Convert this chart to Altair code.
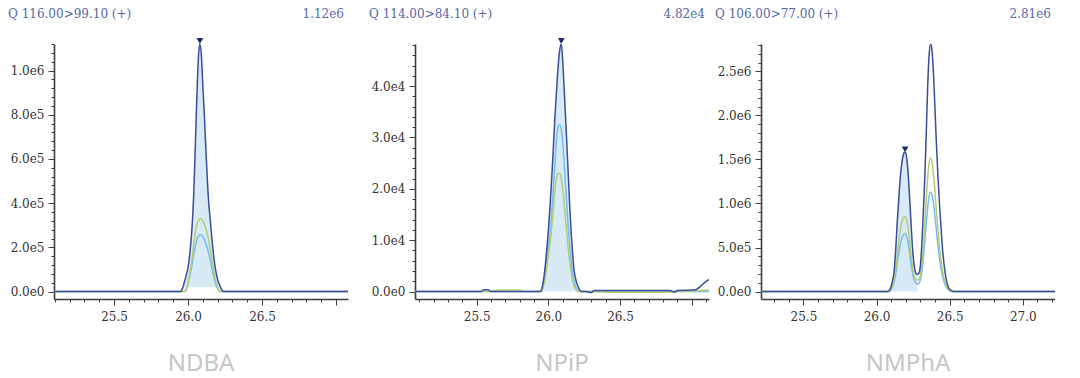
import altair as alt
import pandas as pd
import numpy as np

# ---------------- data ----------------
NAMES = ["NDBA", "NPiP", "NMPhA"]
HEAD_L = ["Q 116.00>99.10 (+)", "Q 114.00>84.10 (+)", "Q 106.00>77.00 (+)"]
HEAD_R = ["1.12e6", "4.82e4", "2.81e6"]
YMAX = [1.12e6, 4.82e4, 2.81e6]
YSTEP = [2e5, 1e4, 5e5]
YMINOR = [4e4, 2e3, 1e5]
XDOM = [[25.094, 27.081], [25.07, 27.12], [25.21, 27.22]]
XLABELS = [[25.5, 26.0, 26.5], [25.5, 26.0, 26.5], [25.5, 26.0, 26.5, 27.0]]
PEAK_T = [26.08, 26.09, 26.195]
PEAK_V = [1.12e6, 4.82e4, 1.58e6]
FILL_FROM = [25.96, 25.95, 26.08]
FILL_TO = [26.21, 26.22, 26.28]
FILL_BASE = [2.0e4, 0.0, 0.0]

P1_T = [25.0, 25.95, 25.96, 25.97, 25.98, 25.99, 26.00, 26.01, 26.02, 26.03, 26.04,
        26.05, 26.06, 26.07, 26.08, 26.09, 26.10, 26.11, 26.12, 26.13, 26.14, 26.15,
        26.16, 26.17, 26.18, 26.19, 26.20, 26.21, 26.22, 26.23, 26.24, 27.2]
P1_DARK = [0, 0, 1.0e4, 3.0e4, 5.5e4, 8.0e4, 1.1e5, 1.6e5, 2.3e5, 3.25e5, 4.7e5,
           6.8e5, 8.9e5, 1.06e6, 1.12e6, 1.07e6, 9.3e5, 8.0e5, 6.5e5, 5.1e5, 4.0e5, 3.25e5,
           2.5e5, 1.8e5, 1.25e5, 8.5e4, 5.5e4, 3.5e4, 1.8e4, 6e3, 0, 0]
P1_GREEN = [0, 0, 0, 0, 2e3, 1.5e4, 4e4, 7.5e4, 1.15e5, 1.65e5, 2.2e5,
            2.7e5, 3.05e5, 3.22e5, 3.3e5, 3.28e5, 3.2e5, 3.05e5, 2.85e5, 2.6e5, 2.3e5, 1.9e5,
            1.5e5, 1.1e5, 7e4, 4e4, 2e4, 6e3, 0, 0, 0, 0]
P1_BLUE = [0, 0, 0, 0, 2e3, 1.2e4, 3.5e4, 6.5e4, 9.5e4, 1.35e5, 1.75e5,
           2.1e5, 2.35e5, 2.5e5, 2.57e5, 2.55e5, 2.48e5, 2.35e5, 2.18e5, 1.98e5, 1.72e5, 1.42e5,
           1.1e5, 7.8e4, 5e4, 2.8e4, 1.3e4, 4e3, 0, 0, 0, 0]

P2_T = [25.0, 25.53, 25.55, 25.58, 25.60, 25.65, 25.80, 25.82,
        25.93, 25.94, 25.95, 25.96, 25.97, 25.98, 25.99, 26.00, 26.01, 26.02, 26.03,
        26.04, 26.05, 26.06, 26.07, 26.08, 26.09, 26.10, 26.11, 26.12, 26.13, 26.14,
        26.15, 26.16, 26.17, 26.18, 26.19, 26.20, 26.21, 26.22, 26.23,
        26.26, 26.30, 26.32, 26.45, 26.85, 26.88, 26.90, 27.00, 27.03, 27.06, 27.10, 27.2]
P2_DARK = [0, 0, 350, 350, 0, 0, 0, 0,
           0, 0, 200, 1.2e3, 3e3, 5.5e3, 8.5e3, 1.2e4, 1.6e4, 2.05e4, 2.55e4,
           3.1e4, 3.6e4, 4.05e4, 4.45e4, 4.72e4, 4.82e4, 4.5e4, 3.95e4, 3.4e4, 2.8e4, 2.2e4,
           1.6e4, 1.1e4, 7e3, 4e3, 2.5e3, 1.5e3, 800, 300, 0,
           0, -200, 200, 200, 200, -100, 200, 300, 400, 1.0e3, 2.0e3, 3.0e3]
P2_GREEN = [0, 0, 0, 0, 0, 300, 300, 0,
            0, 0, 0, 500, 1.5e3, 3e3, 5e3, 7e3, 9e3, 1.15e4, 1.45e4,
            1.8e4, 2.1e4, 2.25e4, 2.3e4, 2.3e4, 2.2e4, 2.0e4, 1.7e4, 1.4e4, 1.1e4, 8e3,
            5.5e3, 3.5e3, 2e3, 1e3, 500, 200, 0, 0, 0,
            0, 0, 0, -150, -150, 0, 0, 100, 150, 200, 250, 300]
P2_BLUE = [0, 0, 0, 0, 0, 0, 0, 0,
           0, 0, 100, 1e3, 2.5e3, 4.5e3, 7e3, 9e3, 1.1e4, 1.4e4, 1.8e4,
           2.25e4, 2.7e4, 3.05e4, 3.22e4, 3.25e4, 3.15e4, 2.9e4, 2.5e4, 2.05e4, 1.6e4, 1.2e4,
           8.5e3, 5.5e3, 3.5e3, 2e3, 1e3, 500, 200, 0, 0,
           0, 0, 0, 0, 0, 0, 0, 0, 0, 0, 0, 0]

P3_T = [25.0, 26.07, 26.08, 26.09, 26.10, 26.11, 26.12, 26.13, 26.14, 26.15, 26.16,
        26.17, 26.18, 26.19, 26.20, 26.21, 26.22, 26.23, 26.24, 26.25, 26.26,
        26.27, 26.28, 26.29, 26.30, 26.31, 26.32, 26.33, 26.34, 26.35, 26.36,
        26.37, 26.38, 26.39, 26.40, 26.41, 26.42, 26.43, 26.44, 26.45, 26.46,
        26.47, 26.48, 26.49, 26.50, 26.51, 26.52, 26.53, 27.4]
P3_DARK = [0, 0, 5e3, 2e4, 6e4, 1.3e5, 2.3e5, 4.5e5, 7.5e5, 1.0e6, 1.25e6,
           1.42e6, 1.53e6, 1.58e6, 1.57e6, 1.46e6, 1.24e6, 9.5e5, 6.5e5, 4.1e5, 2.7e5,
           2.05e5, 1.95e5, 2.1e5, 3.0e5, 5.5e5, 9.0e5, 1.3e6, 1.8e6, 2.35e6, 2.7e6,
           2.81e6, 2.72e6, 2.45e6, 2.05e6, 1.65e6, 1.3e6, 1.0e6, 7.5e5, 5.0e5, 3.3e5,
           2.0e5, 1.1e5, 5.5e4, 2.5e4, 1e4, 3e3, 0, 0]
P3_GREEN = [0, 0, 0, 8e3, 3e4, 7e4, 1.3e5, 2.4e5, 3.9e5, 5.4e5, 6.7e5,
            7.7e5, 8.3e5, 8.5e5, 8.4e5, 7.8e5, 6.6e5, 5.0e5, 3.5e5, 2.3e5, 1.6e5,
            1.35e5, 1.3e5, 1.4e5, 1.9e5, 3.2e5, 5.2e5, 7.8e5, 1.05e6, 1.3e6, 1.47e6,
            1.515e6, 1.46e6, 1.32e6, 1.12e6, 9.0e5, 6.9e5, 5.1e5, 3.6e5, 2.45e5, 1.6e5,
            1.0e5, 5.5e4, 2.8e4, 1.2e4, 4e3, 0, 0, 0]
P3_BLUE = [0, 0, 0, 5e3, 2.2e4, 5.5e4, 1.0e5, 1.9e5, 3.0e5, 4.2e5, 5.2e5,
           5.9e5, 6.35e5, 6.55e5, 6.45e5, 6.0e5, 5.1e5, 3.9e5, 2.7e5, 1.8e5, 1.2e5,
           9.5e4, 8.7e4, 9.5e4, 1.35e5, 2.3e5, 3.8e5, 5.7e5, 7.8e5, 9.6e5, 1.09e6,
           1.13e6, 1.09e6, 9.9e5, 8.4e5, 6.8e5, 5.2e5, 3.8e5, 2.7e5, 1.85e5, 1.2e5,
           7.5e4, 4.2e4, 2.2e4, 1e4, 3e3, 0, 0, 0]

SERIES = [(P1_T, P1_DARK, P1_GREEN, P1_BLUE),
          (P2_T, P2_DARK, P2_GREEN, P2_BLUE),
          (P3_T, P3_DARK, P3_GREEN, P3_BLUE)]

# ---------------- style ----------------
W, H = 294, 255
C_DARK = "#3b4d9a"
C_GREEN = "#b5cc72"
C_BLUE = "#74bdf2"
C_FILL = "#d7eaf5"
C_MARK = "#1c2a66"
C_HEAD = "#5467a6"
AX = "#3d3d3d"
SERIF = "DejaVu Serif, Liberation Serif, serif"


def panel(i):
    T, D, G, B = SERIES[i]
    df = pd.DataFrame({"t": T, "dark": D, "green": G, "blue": B})
    fill = df[(df.t >= FILL_FROM[i] - 1e-9) & (df.t <= FILL_TO[i] + 1e-9)].copy()
    fill["base"] = FILL_BASE[i]

    x0, x1 = XDOM[i]
    xticks = [round(v, 1) for v in np.arange(np.ceil(x0 * 10) / 10, x1 + 1e-9, 0.1)]
    lab = "[" + ",".join(str(v) for v in XLABELS[i]) + "]"
    xmajor = "abs(datum.value*2 - round(datum.value*2)) < 1e-6"
    xaxis = alt.Axis(
        values=xticks, title=None, grid=False, labelOverlap=False,
        labelExpr=f"indexof({lab}, datum.value) >= 0 ? format(datum.value, '.1f') : ''",
        tickSize={"condition": {"test": xmajor, "value": 6}, "value": 3},
        labelPadding=6, labelFlush=False,
    )
    ymax, ystep, yminor = YMAX[i], YSTEP[i], YMINOR[i]
    yticks = [float(round(v, 6)) for v in np.arange(0, ymax * (1 + 1e-9), yminor)]
    ymajor = f"abs(datum.value/{ystep} - round(datum.value/{ystep})) < 1e-6"
    yaxis = alt.Axis(
        values=yticks, title=None, grid=False, labelOverlap=False,
        labelExpr=f"{ymajor} ? replace(format(datum.value, '.1e'), '+', '') : ''",
        tickSize={"condition": {"test": ymajor, "value": 6}, "value": 3},
        labelPadding=4, labelFlush=False,
    )
    xs = alt.Scale(domain=[x0, x1], nice=False, zero=False)
    ys = alt.Scale(domain=[-0.03 * ymax, ymax], nice=False, zero=False)
    X = alt.X("t:Q", scale=xs, axis=xaxis)

    area = alt.Chart(fill).mark_area(color=C_FILL, opacity=1, interpolate="monotone").encode(
        x=X, y=alt.Y("dark:Q", scale=ys, axis=yaxis), y2="base:Q")
    lines = []
    for col, c in [("blue", C_BLUE), ("green", C_GREEN), ("dark", C_DARK)]:
        lines.append(alt.Chart(df).mark_line(color=c, strokeWidth=1.5, interpolate="monotone",
                                             clip=True).encode(
            x=X, y=alt.Y(f"{col}:Q", scale=ys, axis=yaxis)))
    pk = pd.DataFrame({"t": [PEAK_T[i]], "v": [PEAK_V[i]]})
    mark = alt.Chart(pk).mark_point(shape="triangle-down", filled=True, size=45, color=C_MARK,
                                    opacity=1, yOffset=-3).encode(
        x=X, y=alt.Y("v:Q", scale=ys, axis=yaxis))
    txt = pd.DataFrame({"l": [HEAD_L[i]], "r": [HEAD_R[i]], "n": [NAMES[i]]})
    hl = alt.Chart(txt).mark_text(align="left", baseline="middle", font=SERIF, fontSize=12,
                                  color=C_HEAD).encode(
        x=alt.value(-46), y=alt.value(-30), text="l:N")
    hr = alt.Chart(txt).mark_text(align="right", baseline="middle", font=SERIF, fontSize=12,
                                  color=C_HEAD).encode(
        x=alt.value(W - 4), y=alt.value(-30), text="r:N")
    nm = alt.Chart(txt).mark_text(align="center", baseline="middle", font="Noto Sans",
                                  fontSize=24, color="#c6c6c6").encode(
        x=alt.value(W / 2), y=alt.value(H + 65), text="n:N")
    return alt.layer(area, *lines, mark, hl, hr, nm).properties(width=W, height=H)


left = alt.hconcat(panel(0), panel(1), spacing=67, bounds="flush")
chart = alt.hconcat(left, panel(2), spacing=6).properties(
    padding={"left": 0, "top": 0, "right": 0, "bottom": 2}
).configure_view(stroke=None).configure_axis(
    domainColor=AX, domainWidth=1.6, tickColor=AX, tickWidth=1,
    labelFont=SERIF, labelFontSize=12, labelColor="#333333",
)

chart.save("out.html", embed_options={"renderer": "svg", "actions": False})
